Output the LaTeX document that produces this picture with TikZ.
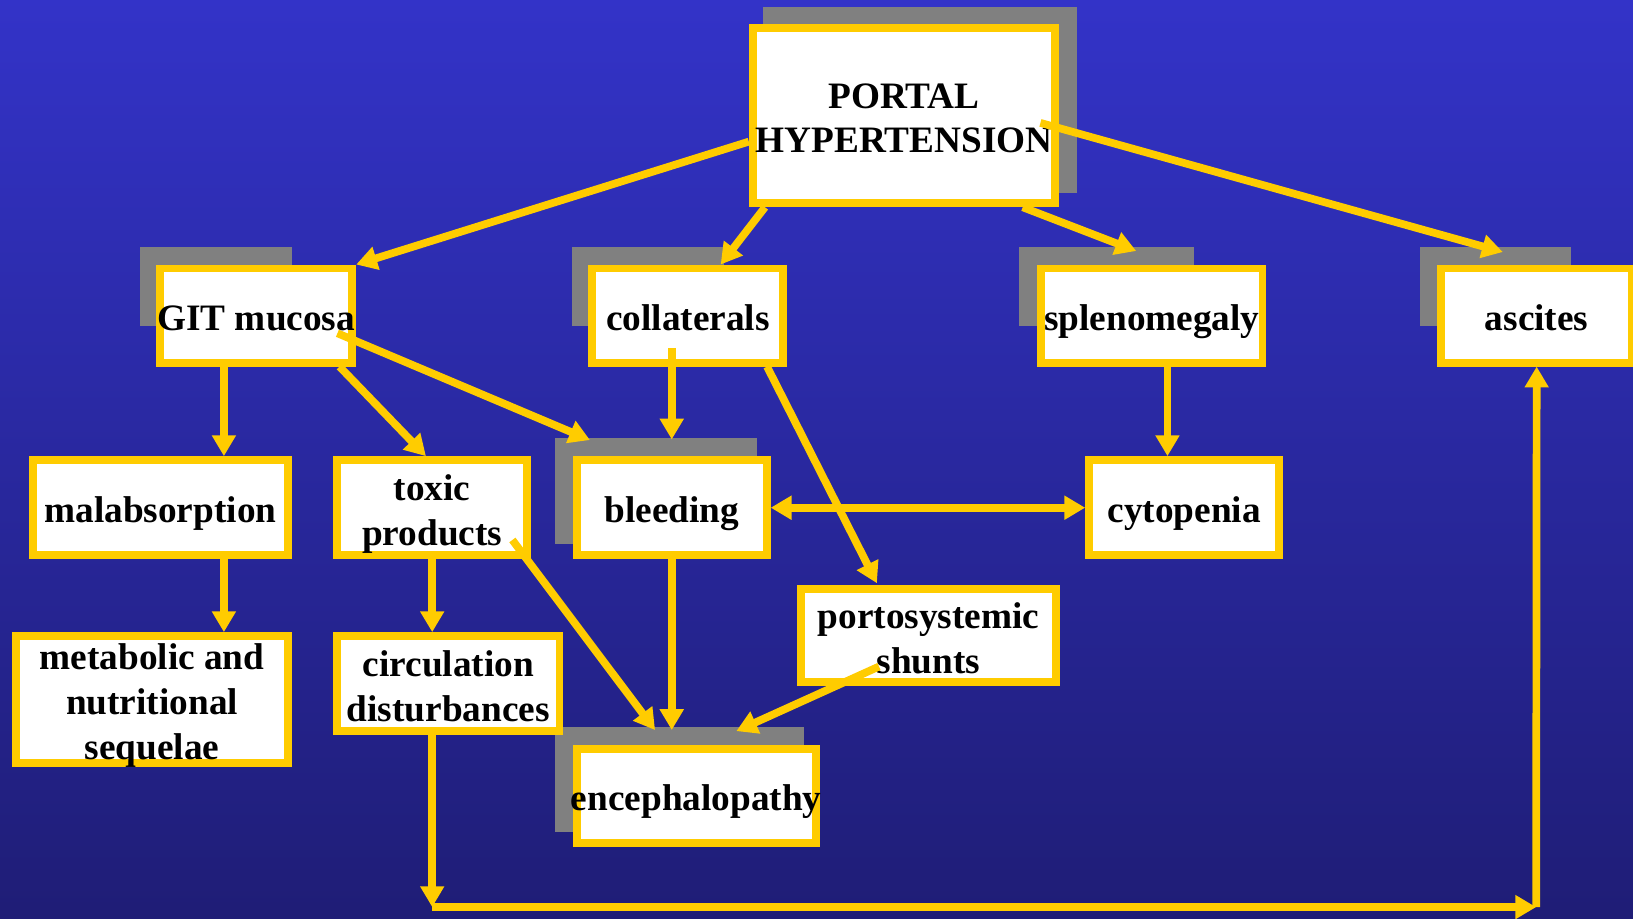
\documentclass[tikz,border=0pt]{standalone}
\usepackage{fontspec}
\setmainfont{Liberation Serif}
\usetikzlibrary{arrows.meta,calc}
\definecolor{bgtop}{RGB}{51,51,200}
\definecolor{bgbot}{RGB}{31,29,118}
\definecolor{ylw}{RGB}{255,204,0}
\definecolor{shd}{RGB}{128,128,128}
\newcommand\bt[1]{\raisebox{-7.2pt}[0pt][0pt]{\makebox[0pt]{\begin{tabular}[c]{@{}c@{}}#1\end{tabular}}}}
\begin{document}
\begin{tikzpicture}[x=0.5pt,y=-0.5pt,
  box/.style={draw=ylw, fill=white, line width=3.8pt, inner sep=0pt,
    font=\fontsize{17.9}{21.5}\selectfont\bfseries, text=black},
  tip/.tip={Triangle[length=10pt,width=11pt]},
  conn/.style={draw=ylw, line width=3.7pt, -tip},
  shadowbox/.style={fill=shd}]
\useasboundingbox (0,0) rectangle (1568,882);
\shade[top color=bgtop, bottom color=bgbot] (0,0) rectangle (1568,882);

% shadows
\fill[shadowbox] (733,7) rectangle (1034,185);
\fill[shadowbox] (134,237) rectangle (280,313);
\fill[shadowbox] (549,237) rectangle (695,313);
\fill[shadowbox] (978,237) rectangle (1146,313);
\fill[shadowbox] (1363,237) rectangle (1508,313);
\fill[shadowbox] (533,421) rectangle (727,522);
\fill[shadowbox] (533,698) rectangle (772,799);

% boxes
\node[box, minimum width=145.2pt, minimum height=84.2pt] (ph) at (868,111) {\bt{PORTAL\\HYPERTENSION}};
\node[box, minimum width=92.2pt, minimum height=45.2pt] (git) at (246,303) {\bt{GIT mucosa}};
\node[box, minimum width=91.7pt, minimum height=45.2pt] (coll) at (660.5,303) {\bt{collaterals}};
\node[box, minimum width=106.2pt, minimum height=45.2pt] (splen) at (1106,303) {\bt{splenomegaly}};
\node[box, minimum width=91.7pt, minimum height=45.2pt] (asc) at (1475.5,303) {\bt{ascites}};
\node[box, minimum width=122.2pt, minimum height=45.7pt] (malab) at (154,487.5) {\bt{malabsorption}};
\node[box, minimum width=91.2pt, minimum height=45.7pt] (toxic) at (415,487.5) {\bt{toxic\\products}};
\node[box, minimum width=91.2pt, minimum height=45.7pt] (bleed) at (645,487.5) {\bt{bleeding}};
\node[box, minimum width=91.2pt, minimum height=45.7pt] (cyto) at (1137,487.5) {\bt{cytopenia}};
\node[box, minimum width=130.2pt, minimum height=60.7pt] (metab) at (146,671.5) {\bt{metabolic and\\nutritional\\sequelae}};
\node[box, minimum width=106.7pt, minimum height=45.7pt] (circ) at (430.5,656.5) {\bt{circulation\\disturbances}};
\node[box, minimum width=122.7pt, minimum height=44.7pt] (port) at (891.5,610.5) {\bt{portosystemic\\shunts}};
\node[box, minimum width=114.7pt, minimum height=45.2pt] (enc) at (668.5,764) {\bt{encephalopathy}};

% connectors
\draw[conn] ($(ph.west)+(0,25)$) -- (git.north east);
\draw[conn] ($(ph.south west)+(15.5,0)$) -- ($(coll.north west)+(127,0)$);
\draw[conn] ($(ph.south east)+(-35,0)$) -- ($(splen.north west)+(95,-13)$);
\draw[conn] ($(ph.east)+(-18,7)$) -- ($(asc.north west)+(63,-12)$);
\draw[conn] ($(git.south west)+(65,0)$) -- ($(malab.north west)+(187,0)$);
\draw[conn] ($(git.south east)+(-16,0)$) -- ($(toxic.north west)+(89,0)$);
\draw[conn] ($(git.east)+(-18,17)$) -- ($(bleed.north west)+(16.5,-15.5)$);
\draw[conn] ($(coll.south)+(-15.5,-18)$) -- ($(bleed.north)+(0,-16)$);
\draw[conn] ($(coll.south east)+(-19.5,0)$) -- ($(port.north west)+(77,-2)$);
\draw[conn] ($(splen.south west)+(125,0)$) -- ($(cyto.north west)+(79,0)$);
\draw[conn, tip-tip] (bleed.east) -- (cyto.west);
\draw[conn] ($(malab.south west)+(187,0)$) -- ($(metab.north west)+(203,0)$);
\draw[conn] (toxic.south) -- ($(circ.north west)+(95,0)$);
\draw[conn] ($(toxic.south east)+(-18,-18.5)$) -- ($(enc.north west)+(79,-14)$);
\draw[conn] (bleed.south) -- ($(enc.north west)+(95,-14)$);
\draw[conn] ($(port.south west)+(79,-19)$) -- ($(enc.north west)+(157,-13)$);
\coordinate (c1) at (415,871);
\coordinate (c2) at (1475,871);
\draw[conn] ($(circ.south west)+(95,0)$) -- (c1);
\draw[conn] (c1) -- (c2);
\draw[conn] (c2) -- (asc.south);
\end{tikzpicture}
\end{document}
